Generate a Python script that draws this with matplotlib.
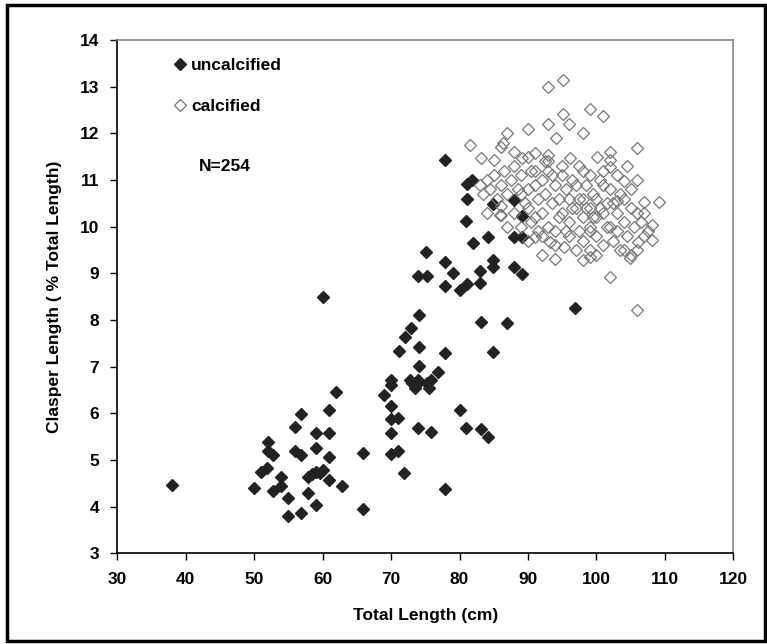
import matplotlib.pyplot as plt
from matplotlib.patches import Rectangle

plt.rcParams['font.family'] = ['Liberation Sans', 'DejaVu Sans']

# uncalcified claspers: total length (cm), clasper length (% TL)
unc_x = [38, 50, 51, 51.8, 52, 52, 52.8, 52.8, 53.9, 53.9, 55, 55, 55.9, 55.9,
         56.9, 56.9, 56.9, 57.9, 57.9, 58.5, 59, 59, 59, 59, 59.6, 60, 60, 61,
         61, 61, 61, 61.9, 62.9, 65.9, 65.9, 68.9, 70, 70, 70, 70, 71, 70, 70,
         71, 71.9, 72.8, 73, 74, 74, 75.2, 75.9, 73.5, 75.5, 74, 75.9, 77.9, 80,
         81, 83.1, 84.1, 77.9, 81.1, 81.8, 81.1, 84.9, 87.9, 89.1, 81, 82, 84.1,
         87.9, 89.1, 75.1, 77.9, 79.1, 74, 75.2, 84.9, 84.9, 83, 87.9, 89.1,
         77.9, 80.1, 81.1, 83, 74.1, 72.9, 72.0, 71.1, 74.1, 77.9, 74.1, 76.9,
         83.1, 86.9, 84.9, 96.9]
unc_y = [4.46, 4.40, 4.73, 4.82, 5.38, 5.20, 5.10, 4.34, 4.64, 4.43, 4.18, 3.80,
         5.71, 5.18, 5.98, 5.10, 3.86, 4.64, 4.28, 4.70, 5.58, 5.25, 4.75, 4.03,
         4.71, 4.78, 8.49, 6.07, 5.58, 5.07, 4.57, 6.46, 4.43, 5.14, 3.95, 6.39,
         6.71, 6.60, 6.15, 5.87, 5.90, 5.57, 5.13, 5.20, 4.71, 6.71, 6.64, 6.71,
         6.64, 6.64, 6.71, 6.55, 6.55, 5.68, 5.59, 4.37, 6.07, 5.69, 5.66, 5.48,
         11.42, 10.92, 10.99, 10.60, 10.49, 10.57, 10.22, 10.12, 9.65, 9.78,
         9.78, 9.78, 9.46, 9.24, 9.00, 8.94, 8.94, 9.28, 9.14, 9.05, 9.14, 8.98,
         8.72, 8.65, 8.77, 8.79, 8.10, 7.82, 7.64, 7.33, 7.42, 7.30, 7.01, 6.89,
         7.95, 7.93, 7.32, 8.25]

# calcified claspers
cal_x = [81.5, 83.2, 85.1, 86.9, 86.4, 86, 89.1, 91, 93, 94.1, 96.1, 92.9, 95.1,
         95.1, 99.1, 100.9, 105.9, 102, 100.1, 102, 102, 109.1, 108.1, 108.1,
         106.1, 102, 105.9, 98.1, 99.1, 104.9, 93.2, 95.2, 91, 85.9, 86, 104,
         106.9, 103, 101,
         83, 83.5, 84, 84.5, 85, 85.5, 86, 86.5, 87, 87.5, 88, 88.5, 89, 89.5,
         84, 86, 88, 89,
         90, 90, 90.5, 91, 91, 91.5, 92, 92, 92.5, 93, 93, 93.5, 94, 94, 94.5,
         95, 95, 95.5, 96, 96, 96.5, 90, 92, 94, 96, 97, 97, 97.5, 91, 93, 95,
         98, 98, 98.5, 99, 99, 99.5, 100, 100, 100, 100.5, 101, 101, 101.5, 102,
         102, 102.5, 103, 103, 98, 99, 97.5, 103.5, 99, 101, 98,
         104, 104, 104.5, 105, 105, 105.5, 106, 106, 106.5, 107, 107, 104, 105,
         107.5, 103.5, 106,
         89, 90.5, 91.5, 92.5, 93.5, 94.5, 95.5, 96.5, 97.5, 98.5, 99.5, 100.5,
         101.5, 102.5, 99, 100, 97, 88, 90, 87, 92, 94, 103, 104.5, 98, 96, 90,
         93]
cal_y = [11.74, 11.46, 11.42, 12.00, 11.80, 11.70, 11.46, 11.57, 11.53, 11.90,
         11.46, 13.00, 13.15, 12.42, 12.53, 12.38, 11.69, 11.60, 11.49, 11.42,
         11.28, 10.53, 10.03, 9.71, 9.67, 8.92, 8.21, 9.28, 9.35, 9.32, 9.67,
         9.57, 9.78, 10.24, 10.24, 10.98, 10.52, 10.55, 10.90,
         10.9, 10.7, 11.0, 10.8, 11.1, 10.6, 10.9, 11.2, 10.7, 11.0, 11.3, 10.8,
         11.1, 10.5, 10.3, 10.45, 10.3, 10.0,
         10.8, 10.4, 11.2, 10.9, 10.2, 10.6, 11.0, 10.3, 10.7, 11.2, 10.0, 10.5,
         10.9, 9.9, 10.6, 11.1, 10.3, 10.8, 10.1, 10.6, 11.0, 9.7, 9.8, 9.6, 9.8,
         10.4, 10.9, 11.3, 11.2, 11.4, 11.3,
         10.2, 10.6, 10.9, 10.0, 10.4, 10.7, 10.2, 9.8, 10.6, 11.0, 10.3, 9.6,
         10.5, 10.0, 10.8, 9.7, 10.3, 9.9, 9.7, 9.5, 9.9, 10.7, 11.1, 11.2, 11.2,
         10.6, 10.1, 9.8, 10.4, 10.8, 10.0, 10.3, 9.5, 10.1, 9.8, 10.3, 9.5, 9.4,
         9.9, 9.5, 11.0,
         10.7, 10.1, 9.9, 11.4, 11.1, 10.2, 9.9, 10.4, 10.6, 10.4, 10.2, 10.4,
         10.0, 10.5, 9.9, 9.4, 9.5, 11.6, 11.5, 10.0, 9.4, 9.3, 11.1, 11.3, 12.0,
         12.2, 12.1, 12.2]

fs = 12.5

fig = plt.figure(figsize=(7.67, 6.44), dpi=100)
ax = fig.add_axes([0.153, 0.141, 0.803, 0.797])

ax.plot(unc_x, unc_y, 'D', ms=6.4, color='#222222', mec='#222222', ls='none',
        label='uncalcified')
ax.plot(cal_x, cal_y, 'D', ms=6.4, mfc='none', mec='#777777', mew=0.9,
        ls='none', label='calcified')

ax.set_xlim(30, 120)
ax.set_ylim(3, 14)
ax.set_xticks(range(30, 121, 10))
ax.set_yticks(range(3, 15))

for s in ['left', 'bottom']:
    ax.spines[s].set_color('black')
    ax.spines[s].set_linewidth(1.2)
for s in ['top', 'right']:
    ax.spines[s].set_color('#888888')
    ax.spines[s].set_linewidth(1.2)

ax.tick_params(direction='out', length=5, width=1, labelsize=fs)
ax.tick_params(axis='x', pad=8.5)
ax.tick_params(axis='y', pad=8)
for lab in ax.get_xticklabels() + ax.get_yticklabels():
    lab.set_fontweight('bold')

ax.set_xlabel('Total Length (cm)', fontsize=fs, fontweight='bold', labelpad=15)
ax.set_ylabel('Clasper Length ( % Total Length)', fontsize=fs,
              fontweight='bold', labelpad=13)

leg = ax.legend(loc='upper left', bbox_to_anchor=(0.09, 0.965), frameon=False,
                handlelength=0.8, handletextpad=0.25, labelspacing=1.47,
                borderpad=0, borderaxespad=0, fontsize=fs)
for t in leg.get_texts():
    t.set_fontweight('bold')

ax.text(0.132, 0.753, 'N=254', transform=ax.transAxes, fontsize=fs,
        fontweight='bold', va='center')

fig.patches.append(Rectangle((0.009, 0.004), 0.988, 0.988, transform=fig.transFigure,
                             fill=False, ec='black', lw=2.5))

fig.savefig('out.png', dpi=100)
